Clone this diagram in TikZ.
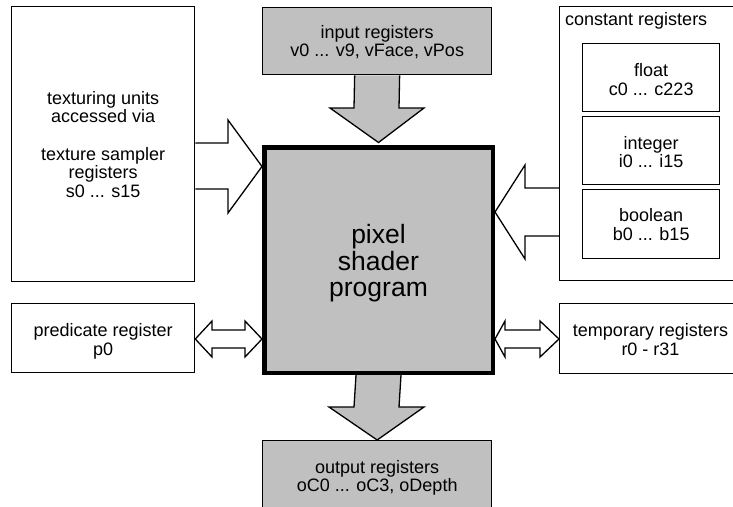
\documentclass[tikz,border=0pt]{standalone}
\usepackage{fontspec}
\setmainfont{Liberation Sans}
\usetikzlibrary{backgrounds}
\definecolor{regfill}{RGB}{192,192,192}
\tikzset{
  regbox/.style={draw, line width=1.3pt, rectangle, inner sep=0pt, anchor=north west},
  graybox/.style={regbox, fill=regfill},
  % multi-line labels are placed by the baseline of their last line
  txt/.style={font=\fontsize{18}{18.2}\selectfont, align=center, inner sep=0pt, anchor=base},
  bigtxt/.style={font=\fontsize{26.5}{26.7}\selectfont, align=center, inner sep=0pt, anchor=base},
  blockarrow/.style={draw, line width=1.3pt, line join=miter, fill=white},
  grayarrow/.style={blockarrow, fill=regfill},
}
\begin{document}
\begin{tikzpicture}[x=1pt, y=-1pt]
\useasboundingbox (0,0) rectangle (733,506);
\clip (0,0) rectangle (733,506);

% register files around the shader
\node[regbox, minimum width=183pt, minimum height=275pt] (tex) at (11,6) {};
\node[graybox, minimum width=229pt, minimum height=67pt] (inp) at (262,7) {};
\node[regbox, minimum width=183pt, minimum height=274pt] (const) at (559,6) {};
\node[regbox, minimum width=137pt, minimum height=68pt] (float) at (582,43) {};
\node[regbox, minimum width=137pt, minimum height=68pt] (int) at (582,116) {};
\node[regbox, minimum width=137pt, minimum height=69pt] (bool) at (582,189) {};
\node[regbox, minimum width=183pt, minimum height=69pt] (pred) at (11,303) {};
\node[regbox, minimum width=183pt, minimum height=70pt] (temp) at (559,303) {};
\node[graybox, minimum width=229pt, minimum height=80pt] (out) at (262,440) {};

% the shader program itself
\node[graybox, line width=4.5pt, minimum width=228.5pt, minimum height=225.5pt] (main) at (262,145) {};

% labels
\node[txt] (textex) at (tex.north |- 0,197) {texturing units\\accessed via\\[20pt]texture sampler\\registers\\s0 ... s15};
\node[txt] (textinp) at (inp.north |- 0,56.7) {input registers\\v0 ... v9, vFace, vPos};
\node[txt, anchor=base west] (textconst) at (565,25) {constant registers};
\node[txt] (textfloat) at (float.north |- 0,95) {float\\c0 ... c223};
\node[txt] (textint) at (int.north |- 0,167.7) {integer\\i0 ... i15};
\node[txt] (textbool) at (bool.north |- 0,240) {boolean\\b0 ... b15};
\node[txt] (textpred) at (pred.north |- 0,355) {predicate register\\p0};
\node[txt] (texttemp) at (650.5,355) {temporary registers\\r0 - r31};
\node[txt] (textout) at (out.north |- 0,491.7) {output registers\\oC0 ... oC3, oDepth};
\node[bigtxt] (textmain) at (main.north |- 0,296.7) {pixel\\shader\\program};

% block arrows, kept behind the boxes
\begin{scope}[on background layer]
  % input registers -> program
  \path[grayarrow] ([xshift=-22.5pt]inp.south) -- (354,108) -- (330,108)
    -- ([yshift=2.5pt]main.north) -- (424,108) -- (399,108) -- ([xshift=22.5pt]inp.south);
  % program -> output registers
  \path[grayarrow] ([xshift=-22.5pt]main.south) -- (354,407) -- (329,407)
    -- (out.north) -- (424,407) -- (399,407) -- ([xshift=22.5pt]main.south);
  % texture samplers -> program
  \path[blockarrow] (tex.east |- 0,143) -- (228,143) -- (228,120)
    -- (main.west |- 0,166.5) -- (228,213) -- (228,189) -- (tex.east |- 0,189);
  % constants -> program
  \path[blockarrow] (const.west |- 0,188) -- (525,188) -- (525,165)
    -- (main.east |- 0,212) -- (525,259) -- (525,236) -- (const.west |- 0,236);
  % predicate register <-> program
  \path[blockarrow] (pred.east |- 0,339) -- (212,321) -- (212,330) -- (245,330) -- (245,321)
    -- (main.west |- 0,339) -- (245,357) -- (245,348) -- (212,348) -- (212,357) -- cycle;
  % program <-> temporary registers
  \path[blockarrow] (main.east |- 0,339) -- (505,321) -- (505,330) -- (540,330) -- (540,321)
    -- (temp.west |- 0,339) -- (540,357) -- (540,348) -- (505,348) -- (505,357) -- cycle;
\end{scope}
\end{tikzpicture}
\end{document}
